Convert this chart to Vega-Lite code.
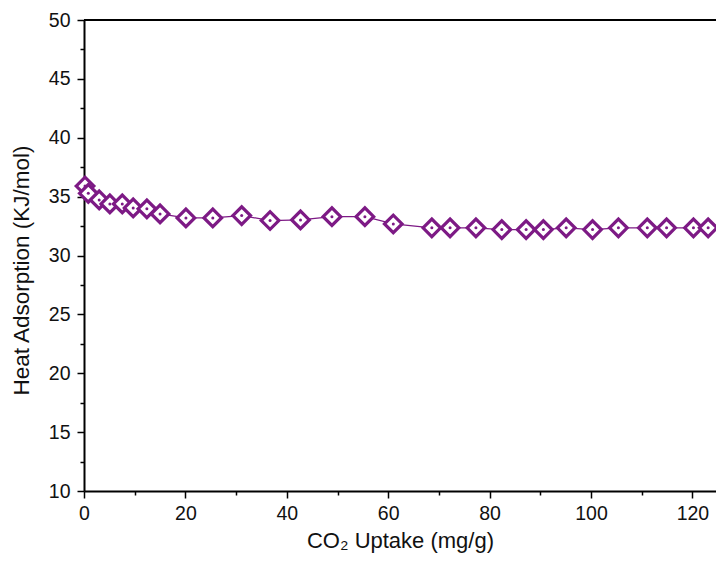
{
  "$schema": "https://vega.github.io/schema/vega-lite/v6.json",
  "width": 632,
  "height": 471,
  "autosize": {"type": "none"},
  "padding": {"left": 84, "top": 20, "right": 0, "bottom": 74},
  "background": "white",
  "config": {
    "view": {"stroke": null},
    "font": "Liberation Sans",
    "axis": {
      "grid": false,
      "domainColor": "black",
      "domainWidth": 2,
      "tickColor": "black",
      "tickWidth": 1.5,
      "labelFont": "Liberation Sans",
      "labelFontSize": 19.5,
      "labelColor": "#111111",
      "titleFont": "Liberation Sans",
      "titleFontSize": 22,
      "titleFontWeight": "normal",
      "titleColor": "#111111"
    }
  },
  "data": {
    "values": [
      {"x": 0.2, "y": 35.9},
      {"x": 0.85, "y": 35.28},
      {"x": 3.0, "y": 34.72},
      {"x": 5.1, "y": 34.38},
      {"x": 7.55, "y": 34.38},
      {"x": 9.7, "y": 34.04},
      {"x": 12.4, "y": 33.96},
      {"x": 15.0, "y": 33.53},
      {"x": 20.1, "y": 33.19},
      {"x": 25.4, "y": 33.19},
      {"x": 31.1, "y": 33.39},
      {"x": 36.7, "y": 32.97},
      {"x": 42.7, "y": 33.02},
      {"x": 48.9, "y": 33.3},
      {"x": 55.4, "y": 33.3},
      {"x": 61.0, "y": 32.68},
      {"x": 68.6, "y": 32.35},
      {"x": 72.2, "y": 32.35},
      {"x": 77.3, "y": 32.35},
      {"x": 82.4, "y": 32.2},
      {"x": 87.2, "y": 32.2},
      {"x": 90.6, "y": 32.2},
      {"x": 95.1, "y": 32.35},
      {"x": 100.3, "y": 32.2},
      {"x": 105.4, "y": 32.35},
      {"x": 111.1, "y": 32.35},
      {"x": 114.9, "y": 32.35},
      {"x": 120.2, "y": 32.35},
      {"x": 123.1, "y": 32.35}
    ]
  },
  "encoding": {
    "x": {
      "field": "x",
      "type": "quantitative",
      "scale": {"domain": [0, 124.65], "nice": false, "zero": false},
      "axis": {
        "title": "CO₂ Uptake (mg/g)",
        "values": [0, 10, 20, 30, 40, 50, 60, 70, 80, 90, 100, 110, 120],
        "labelExpr": "datum.value % 20 === 0 ? datum.label : ''",
        "tickSize": {"condition": {"test": "datum.value % 20 === 0", "value": 7}, "value": 4},
        "labelPadding": 6,
        "titlePadding": 8,
        "labelFlush": false
      }
    },
    "y": {
      "field": "y",
      "type": "quantitative",
      "scale": {"domain": [10, 50], "nice": false, "zero": false},
      "axis": {
        "title": "Heat Adsorption (KJ/mol)",
        "titleFontSize": 22.5,
        "titleY": 250,
        "values": [10, 12.5, 15, 17.5, 20, 22.5, 25, 27.5, 30, 32.5, 35, 37.5, 40, 42.5, 45, 47.5, 50],
        "labelExpr": "datum.value % 5 === 0 ? datum.label : ''",
        "tickSize": {"condition": {"test": "datum.value % 5 === 0", "value": 7}, "value": 4},
        "labelPadding": 7,
        "titlePadding": 15,
        "labelFlush": false
      }
    }
  },
  "layer": [
    {
      "mark": {"type": "line", "color": "#7d1a85", "strokeWidth": 1.2}
    },
    {
      "mark": {"type": "point", "shape": "diamond", "size": 310, "filled": false, "stroke": "#7d1a85", "strokeWidth": 3.2, "fill": "white", "fillOpacity": 1, "opacity": 1}
    },
    {
      "mark": {"type": "point", "shape": "circle", "size": 9, "filled": true, "color": "#7d1a85", "opacity": 1}
    },
    {
      "mark": {"type": "rule", "color": "black", "strokeWidth": 2},
      "encoding": {"y": {"datum": 50}, "x": null}
    }
  ]
}
